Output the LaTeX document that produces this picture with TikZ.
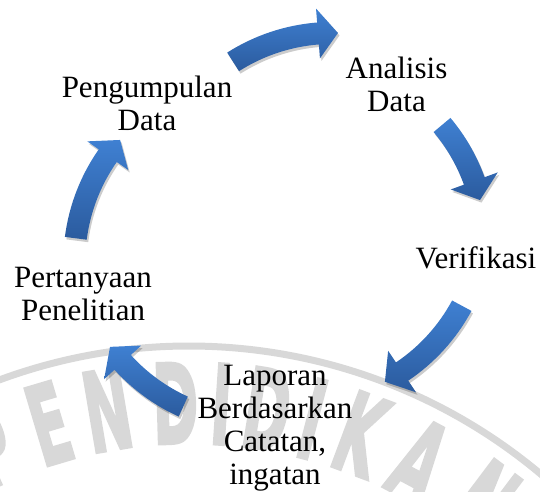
\documentclass[tikz,border=0pt]{standalone}
\usepackage{fontspec}
\setmainfont{Liberation Serif}
\newfontfamily\wmfont{DejaVu Sans Bold}[FakeBold=3]
\usetikzlibrary{calc,shadows}
\definecolor{arrowtop}{HTML}{3F80D2}
\definecolor{arrowbot}{HTML}{2B5B9E}
\definecolor{wmgray}{HTML}{D8D8D8}
\tikzset{
  stage/.style={font=\fontsize{31}{33}\selectfont,align=center,anchor=base,inner sep=0pt},
  blockarrow/.style={top color=arrowtop,bottom color=arrowbot,draw=none,drop shadow={shadow xshift=1.5pt,shadow yshift=-2.5pt,opacity=0.2,fill=black}},
  wmband/.style={draw=wmgray,line width=7pt},
  wmletter/.style={text=wmgray,font=\wmfont\fontsize{110}{110}\selectfont,inner sep=0pt}
}
% curved block arrow: centre, radius, tail angle, head angle
\newcommand{\cyclearrow}[4]{%
  \path[blockarrow] ($(#1)+({#3}:{#2+11})$) arc[start angle=#3,end angle=#4,radius=#2+11]
    -- ($(#1)+({#4}:{#2+25})$) -- ($(#1)+({#4-20/#2*57.3}:{#2})$) -- ($(#1)+({#4}:{#2-25})$)
    -- ($(#1)+({#4}:{#2-11})$) arc[start angle=#4,end angle=#3,radius=#2-11] -- cycle;}

\begin{document}
\begin{tikzpicture}[x=1pt,y=1pt]
\useasboundingbox (0,0) rectangle (540,-491);

% watermark
\begin{scope}
\clip (0,0) rectangle (540,-491);
\coordinate (wm) at (189,-893);
\draw[wmband] ($(wm)+(112:547)$) arc[start angle=112,end angle=45,radius=547];
\foreach \l/\a [count=\i] in {P/-24,E/-16.6,N/-9.6,D/-1.6,I/3.8,D/9.2,I/14.6,K/20.5,A/28.1,N/37}
  \node[wmletter,rotate=-\a] (wm\i) at ($(wm)+({90-\a}:490)$) {\scalebox{0.5}[1]{\l}};
\end{scope}

% arrows
\coordinate (c1) at (332.5,-217.9);
\coordinate (c2) at (300.3,-243.9);
\coordinate (c3) at (298.9,-218.0);
\coordinate (c4) at (259.7,-238.1);
\coordinate (c5) at (259.3,-261.8);
\cyclearrow{c1}{185}{122.5}{94.5}
\cyclearrow{c2}{185}{40.0}{19.9}
\cyclearrow{c3}{185}{-28.3}{-56.1}
\cyclearrow{c4}{185}{-114.4}{-137.8}
\cyclearrow{c5}{185}{172.7}{145.0}

% stages (anchor base = last line)
\node[stage] (collect) at (147,-130) {Pengumpulan\\Data};
\node[stage] (analyse) at (396.5,-111) {Analisis\\Data};
\node[stage] (verify) at (476,-268) {Verifikasi};
\node[stage] (report) at (275,-484) {Laporan\\Berdasarkan\\Catatan,\\ingatan};
\node[stage] (question) at (83,-320) {Pertanyaan\\Penelitian};
\end{tikzpicture}
\end{document}
